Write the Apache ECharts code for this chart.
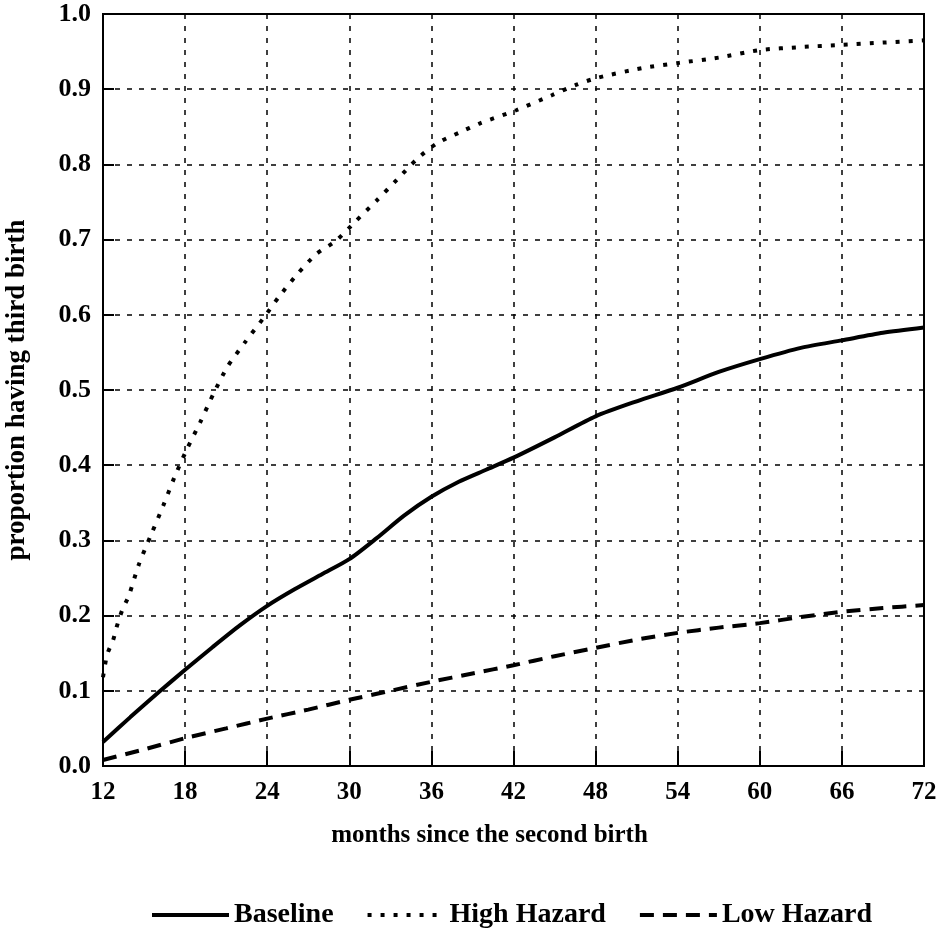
<!DOCTYPE html>
<html>
<head>
<meta charset="utf-8">
<script src="https://cdn.jsdelivr.net/npm/echarts@6/dist/echarts.min.js"></script>
<style>
  html, body { margin: 0; padding: 0; background: #fff; }
  #chart { width: 945px; height: 928px; }
</style>
</head>
<body>
<div id="chart"></div>
<script>
// values
const baselineMonths = [12, 14, 16, 18, 20, 22, 24, 26, 28, 30, 32, 34, 36, 38, 40, 42, 45, 48, 51, 54, 57, 60, 63, 66, 69, 72]
const baselineValues = [0.032, 0.065, 0.097, 0.128, 0.158, 0.187, 0.213, 0.235, 0.255, 0.275, 0.303, 0.333, 0.358, 0.378, 0.394, 0.41, 0.437, 0.465, 0.485, 0.503, 0.524, 0.541, 0.556, 0.566, 0.576, 0.583]

const highMonths = [12, 12.3, 12.75, 13, 13.4, 13.9, 14.6, 15.5, 16.4, 17.2, 18.1, 19.1, 20.1, 21.1, 22.4, 23.7, 24.9, 26.2, 27.6, 29, 30.5, 32, 33.5, 35, 36.4, 38, 39.6, 42.2, 44.8, 46.6, 48.1, 51.4, 54.1, 57, 60, 63, 66, 69, 72]
const highValues = [0.118, 0.148, 0.168, 0.185, 0.207, 0.227, 0.267, 0.307, 0.346, 0.383, 0.42, 0.457, 0.496, 0.531, 0.564, 0.595, 0.625, 0.654, 0.681, 0.698, 0.725, 0.752, 0.78, 0.808, 0.828, 0.842, 0.855, 0.872, 0.892, 0.906, 0.915, 0.928, 0.935, 0.942, 0.952, 0.956, 0.959, 0.962, 0.965]

const lowMonths = [12, 15, 18, 21, 24, 27, 30, 33, 36, 39, 42, 45, 48, 51, 54, 57, 60, 63, 66, 69, 72]
const lowValues = [0.008, 0.022, 0.037, 0.05, 0.063, 0.075, 0.088, 0.1, 0.112, 0.123, 0.134, 0.146, 0.157, 0.168, 0.177, 0.184, 0.19, 0.198, 0.205, 0.21, 0.214]

const seriesNames = ['Baseline', 'High Hazard', 'Low Hazard']

const pairUp = (xs, ys) => xs.map((x, i) => [x, ys[i]])

const font = 'Liberation Serif'
const chart = echarts.init(document.getElementById('chart'))

const gridLine = {
  show: true,
  lineStyle: { color: '#000', width: 1.5, type: [5, 7] }
}

chart.setOption({
  animation: false,
  backgroundColor: '#fff',
  textStyle: { fontFamily: font, fontWeight: 'bold', color: '#000' },
  grid: {
    left: 103,
    right: 21,
    top: 14,
    bottom: 162,
    outerBoundsMode: 'none',
    show: true,
    borderColor: '#000',
    borderWidth: 2,
    backgroundColor: 'transparent'
  },
  legend: {
    top: 896,
    left: 145,
    itemWidth: 77,
    itemHeight: 14,
    itemGap: 32,
    data: seriesNames,
    itemStyle: { opacity: 0 },
    lineStyle: { width: 4 },
    textStyle: { fontFamily: font, fontWeight: 'bold', fontSize: 28, color: '#000' }
  },
  xAxis: {
    type: 'value',
    min: 12,
    max: 72,
    interval: 6,
    name: 'months since the second birth',
    nameLocation: 'middle',
    nameGap: 57,
    nameTextStyle: { fontFamily: font, fontWeight: 'bold', fontSize: 25, color: '#000', padding: [0, 48, 0, 0] },
    axisLine: { lineStyle: { color: '#000', width: 2 } },
    axisTick: { inside: true, length: 15, lineStyle: { color: '#000', width: 2 } },
    axisLabel: { margin: 14, fontFamily: font, fontWeight: 'bold', fontSize: 25, color: '#000' },
    splitLine: gridLine
  },
  yAxis: {
    type: 'value',
    min: 0,
    max: 1,
    interval: 0.1,
    name: 'proportion having third birth',
    nameLocation: 'middle',
    nameRotate: 90,
    nameGap: 72,
    nameTextStyle: { fontFamily: font, fontWeight: 'bold', fontSize: 27, color: '#000' },
    axisLine: { lineStyle: { color: '#000', width: 2 } },
    axisTick: { inside: true, length: 11, lineStyle: { color: '#000', width: 2 } },
    axisLabel: {
      margin: 12,
      fontFamily: font,
      fontWeight: 'bold',
      fontSize: 26,
      color: '#000',
      formatter: v => v.toFixed(1)
    },
    splitLine: gridLine
  },
  series: [
    {
      name: seriesNames[0],
      type: 'line',
      data: pairUp(baselineMonths, baselineValues),
      smooth: 0.25,
      showSymbol: false,
      symbol: 'none',
      itemStyle: { color: '#000' },
      lineStyle: { color: '#000', width: 4, type: 'solid' }
    },
    {
      name: seriesNames[1],
      type: 'line',
      data: pairUp(highMonths, highValues),
      smooth: 0.25,
      showSymbol: false,
      symbol: 'none',
      itemStyle: { color: '#000' },
      lineStyle: { color: '#000', width: 4, type: [4, 9] }
    },
    {
      name: seriesNames[2],
      type: 'line',
      data: pairUp(lowMonths, lowValues),
      smooth: 0.25,
      showSymbol: false,
      symbol: 'none',
      itemStyle: { color: '#000' },
      lineStyle: { color: '#000', width: 4, type: [14, 9] }
    }
  ]
})
</script>
</body>
</html>
